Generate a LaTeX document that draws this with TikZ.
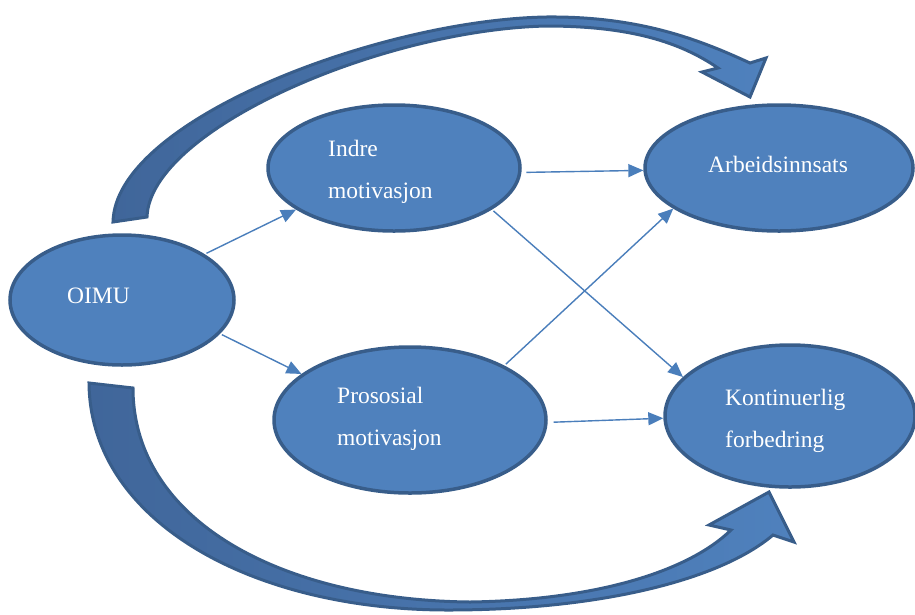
\documentclass[tikz,border=0pt]{standalone}
\usepackage{fontspec}
\setmainfont{Liberation Serif}
\usetikzlibrary{shapes.geometric,arrows.meta}
\definecolor{fillblue}{HTML}{4F81BD}
\definecolor{edgeblue}{HTML}{385D8A}
\definecolor{darkblue}{HTML}{40669A}
\definecolor{lineblue}{HTML}{4A7EBB}
\tikzset{
  oval/.style={ellipse, draw=edgeblue, line width=3.5pt, fill=fillblue, inner sep=0pt},
  txt/.style={anchor=base west, text=white, inner sep=0pt, font=\fontsize{23.5}{27}\selectfont},
  conn/.style={draw=lineblue, line width=1.4pt, -{Triangle[length=15pt,width=13pt]}, shorten <=2pt},
  bigarrow/.style={draw=edgeblue, line width=3pt, line join=miter, left color=darkblue, right color=fillblue}
}
\begin{document}
\begin{tikzpicture}[x=1pt,y=-1pt]
\useasboundingbox (0,0) rectangle (915,614);
\clip (0,0) rectangle (915,614);

% big curved arrows
\path[bigarrow] (113,222) .. controls (115,120) and (380,20) .. (546,17)
  .. controls (640,16) and (700,40) .. (750,63)
  -- (766,58) -- (750,97) -- (702,72) -- (718,68)
  .. controls (680,42) and (630,26) .. (546,26)
  .. controls (380,30) and (150,130) .. (147,217) -- cycle;
\path[bigarrow] (89,383) .. controls (90,520) and (250,610) .. (448,610)
  .. controls (600,610) and (720,580) .. (773,535)
  -- (794,542) -- (769,492) -- (709,525) -- (731,530)
  .. controls (690,570) and (600,600) .. (470,602)
  .. controls (280,600) and (133,520) .. (133,388) -- cycle;

% ellipses
\node[oval, minimum width=224pt, minimum height=130pt] (oimu) at (122,300) {};
\node[oval, minimum width=252pt, minimum height=126pt] (indre) at (394,168) {};
\node[oval, minimum width=272pt, minimum height=146pt] (pros) at (410,420) {};
\node[oval, minimum width=268pt, minimum height=126pt] (arb) at (779,168) {};
\node[oval, minimum width=250pt, minimum height=142pt] (kont) at (790,416) {};

% texts
\node[txt] (t1) at (67,303) {OIMU};
\node[txt] (t2) at (328,156) {Indre};
\node[txt] (t3) at (328,198) {motivasjon};
\node[txt] (t4) at (337,403) {Prososial};
\node[txt] (t5) at (337,445) {motivasjon};
\node[txt] (t6) at (708,172) {Arbeidsinnsats};
\node[txt] (t7) at (725,405) {Kontinuerlig};
\node[txt] (t8) at (725,447) {forbedring};

% connectors
\draw[conn] (oimu.29) -- (indre.-157.6);
\draw[conn] (oimu.-19) -- (pros.157.8);
\draw[conn, shorten <=5pt] (indre.-2) -- (arb.181.6);
\draw[conn] (indre.-23.4) -- (kont.160.3);
\draw[conn] (pros.30) -- (arb.201.4);
\draw[conn, shorten <=6pt] (pros.-1) -- (kont.181.7);
\end{tikzpicture}
\end{document}
